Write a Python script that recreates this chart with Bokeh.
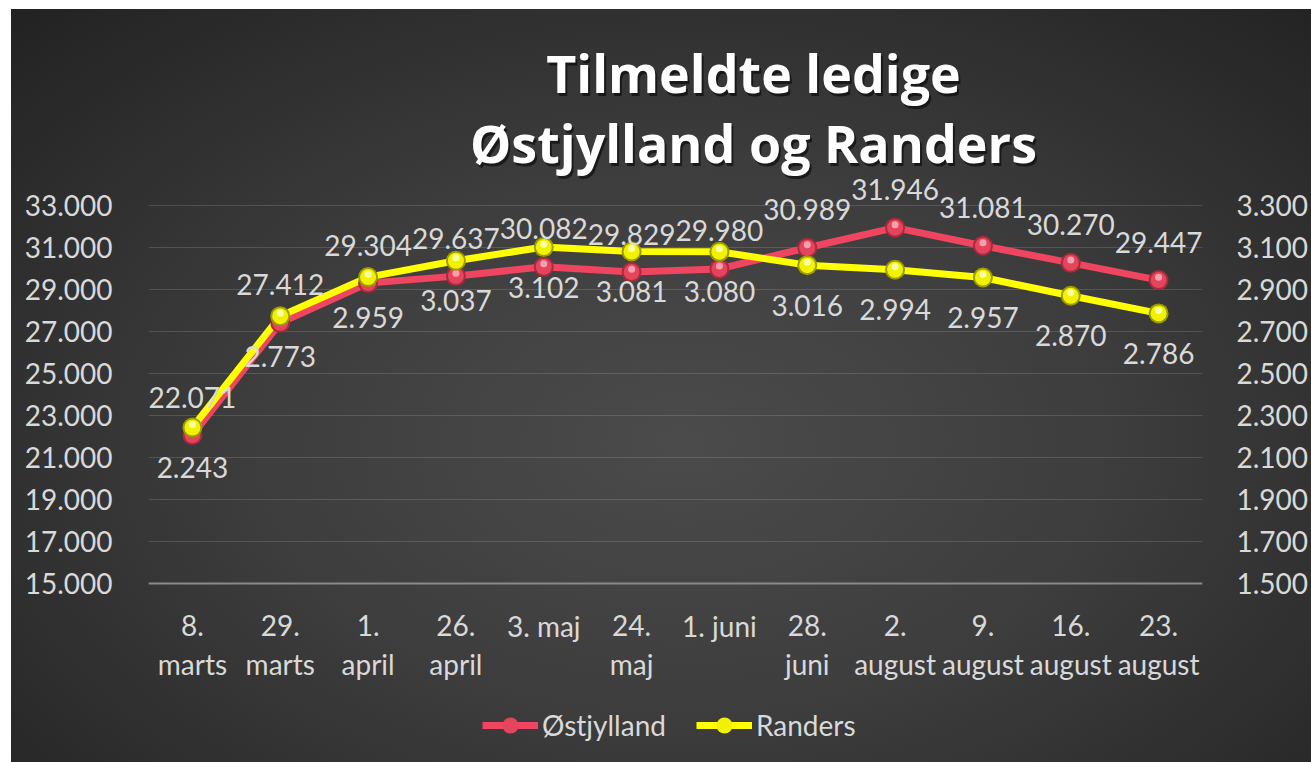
from bokeh.plotting import figure
from bokeh.models import (FactorRange, Range1d, LinearAxis, FixedTicker, Legend,
                          LegendItem, Label, ColumnDataSource, Span)
from bokeh.core.properties import value
from bokeh.transform import dodge
from bokeh.embed import file_html
from bokeh.resources import INLINE

# ---------------- data ----------------
categories = ["8.\nmarts", "29.\nmarts", "1.\napril", "26.\napril", "3. maj", "24.\nmaj",
              "1. juni", "28.\njuni", "2.\naugust", "9.\naugust", "16.\naugust", "23.\naugust"]
ostjylland = [22071, 27412, 29304, 29637, 30082, 29829, 29980, 30989, 31946, 31081, 30270, 29447]
randers = [2243, 2773, 2959, 3037, 3102, 3081, 3080, 3016, 2994, 2957, 2870, 2786]
left_ticks = [15000, 17000, 19000, 21000, 23000, 25000, 27000, 29000, 31000, 33000]
right_ticks = [1500, 1700, 1900, 2100, 2300, 2500, 2700, 2900, 3100, 3300]
title_lines = ["Tilmeldte ledige", "Østjylland og Randers"]
series_names = ["Østjylland", "Randers"]
y_base = left_ticks[0]


def dk(v):
    return f"{v:,}".replace(",", ".")


FONT = "Lato"
TXT = "#d9d9d9"
RED = "#ef4560"
YEL = "#ffff00"

src = ColumnDataSource(dict(
    cat=categories,
    ost=ostjylland,
    ran=randers,
    ost_lbl=[dk(v) for v in ostjylland],
    ran_lbl=[dk(v) for v in randers],
    base=[y_base] * len(categories),
    line1=[c.split("\n")[0] for c in categories],
    line2=[c.split("\n")[1] if "\n" in c else "" for c in categories],
))

# frame: x 148..1212, y 37..751 (left axis 7000..41000, 21 px per 1000)
p = figure(width=1311, height=762, output_backend="svg", toolbar_location=None,
           x_range=FactorRange(*categories, range_padding=0),
           y_range=Range1d(7000, 41000), x_axis_location=None,
           min_border_left=148, min_border_right=99,
           min_border_top=37, min_border_bottom=11)
p.extra_y_ranges = {"right": Range1d(700, 4100)}

p.background_fill_color = None
p.border_fill_color = None
p.outline_line_color = None
p.styles = {"background": (
    "linear-gradient(to right, #ffffff 0px, #ffffff 11px, rgba(0,0,0,0) 11px), "
    "linear-gradient(to bottom, #ffffff 0px, #ffffff 9px, rgba(0,0,0,0) 9px), "
    "radial-gradient(ellipse 78% 85% at 52% 58%, #4b4b4b 0%, #3d3d3d 42%, #292929 80%, #1f1f1f 100%)")}

# y axes
p.yaxis.ticker = FixedTicker(ticks=left_ticks)
p.yaxis.major_label_overrides = {t: dk(t) for t in left_ticks}
ra = LinearAxis(y_range_name="right", ticker=FixedTicker(ticks=right_ticks),
                major_label_overrides={t: dk(t) for t in right_ticks})
p.add_layout(ra, "right")
for ax in (p.yaxis[0], ra):
    ax.axis_line_color = None
    ax.major_tick_line_color = None
    ax.minor_tick_line_color = None
    ax.major_label_text_font = FONT
    ax.major_label_text_font_size = "28px"
    ax.major_label_text_color = TXT
p.yaxis[0].major_label_standoff = 30
ra.major_label_standoff = 28

p.xgrid.visible = False
p.ygrid.ticker = FixedTicker(ticks=left_ticks[1:])
p.ygrid.grid_line_color = "#ffffff"
p.ygrid.grid_line_alpha = 0.14
p.ygrid.grid_line_width = 1

# category axis line and labels
p.add_layout(Span(location=y_base, dimension="width", line_color="#8a8a8a", line_width=2))
for col, off in (("line1", 42), ("line2", 80)):
    p.text("cat", "base", text=col, source=src, y_offset=off, text_align="center",
           text_baseline="middle", text_font=value(FONT), text_font_size="28px",
           text_color=TXT)

# series
r_line = p.line("cat", "ost", source=src, line_color=RED, line_width=7)
y_line = p.line("cat", "ran", source=src, line_color=YEL, line_width=7, y_range_name="right")

r_m1 = p.scatter("cat", "ost", source=src, size=20, fill_color="#a82a3e", line_color=None)
r_m2 = p.scatter("cat", "ost", source=src, size=16, fill_color="#e4455d", line_color=None)
r_m3 = p.scatter("cat", dodge("ost", 140), source=src, size=7, fill_color="#f7a0ad",
                 line_color=None)
y_m1 = p.scatter("cat", "ran", source=src, size=20, fill_color="#9c9c00", line_color=None,
                 y_range_name="right")
y_m2 = p.scatter("cat", "ran", source=src, size=16, fill_color="#f2f200", line_color=None,
                 y_range_name="right")
y_m3 = p.scatter("cat", dodge("ran", 14), source=src, size=7, fill_color="#ffffa8",
                 line_color=None, y_range_name="right")

# data labels
p.text("cat", "ost", text="ost_lbl", source=src, y_offset=-38, text_align="center",
       text_baseline="middle", text_font=value(FONT), text_font_size="28px", text_color=TXT)
p.text("cat", "ran", text="ran_lbl", source=src, y_offset=40, text_align="center",
       text_baseline="middle", text_font=value(FONT), text_font_size="28px", text_color=TXT,
       y_range_name="right")

# title
for txt, yy in zip(title_lines, [679, 609]):
    for dx, dy, col, alpha in ((2, -3, "#000000", 0.55), (0, 0, "#ffffff", 1.0)):
        p.add_layout(Label(x=605 + dx, y=yy + dy, x_units="screen", y_units="screen",
                           text=txt, text_align="center", text_baseline="middle",
                           text_font="Open Sans", text_font_style="bold", text_font_size="52px",
                           text_color=col, text_alpha=alpha))

# legend
legend = Legend(items=[LegendItem(label=series_names[0], renderers=[r_line, r_m2]),
                       LegendItem(label=series_names[1], renderers=[y_line, y_m2])],
                orientation="horizontal", location=(334, 6),
                glyph_width=56, glyph_height=40, label_height=30, label_standoff=4,
                spacing=30, padding=0, margin=0,
                border_line_color=None, background_fill_alpha=0,
                label_text_font=FONT, label_text_font_size="28px", label_text_color=TXT)
p.add_layout(legend, "center")

open("out.html", "w").write(file_html(p, INLINE))
